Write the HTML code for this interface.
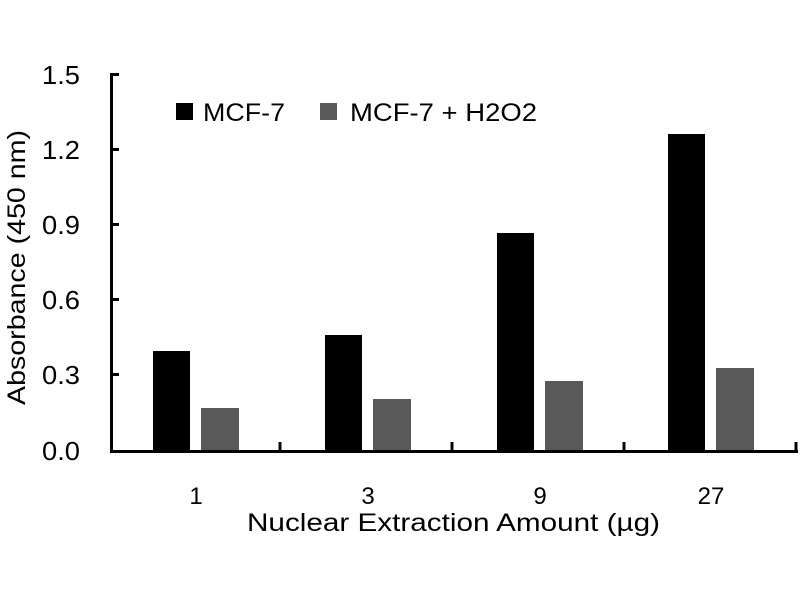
<!DOCTYPE html>
<html><head><style>body{margin:0;background:#fff}</style></head><body>
<svg width="800" height="600" xmlns="http://www.w3.org/2000/svg" font-family="Liberation Sans, DejaVu Sans, sans-serif">
<rect width="800" height="600" fill="#fff"/>
<g fill="#000">
<rect x="153" y="351" width="37" height="99"/>
<rect x="325" y="335" width="37" height="115"/>
<rect x="497" y="233" width="37" height="217"/>
<rect x="668" y="134" width="37" height="316"/>
</g>
<g fill="#595959">
<rect x="201" y="408" width="38" height="42"/>
<rect x="373" y="399" width="38" height="51"/>
<rect x="545" y="381" width="38" height="69"/>
<rect x="716" y="368" width="38" height="82"/>
</g>
<g stroke="#000" stroke-width="3" fill="none">
<path d="M111.5 73 V451.5 H798"/>
<path d="M111 74.5h8M111 149.5h8M111 224.5h8M111 299.5h8M111 374.5h8"/>
<path d="M280 450v-8M452 450v-8M624 450v-8M796 450v-8"/>
</g>
<g font-size="26" fill="#000">
<text x="42" y="84" textLength="38" lengthAdjust="spacingAndGlyphs">1.5</text>
<text x="42" y="159" textLength="38" lengthAdjust="spacingAndGlyphs">1.2</text>
<text x="42" y="234" textLength="38" lengthAdjust="spacingAndGlyphs">0.9</text>
<text x="42" y="309" textLength="38" lengthAdjust="spacingAndGlyphs">0.6</text>
<text x="42" y="384" textLength="38" lengthAdjust="spacingAndGlyphs">0.3</text>
<text x="42" y="460" textLength="38" lengthAdjust="spacingAndGlyphs">0.0</text>
</g>
<g font-size="24" text-anchor="middle" fill="#000">
<text x="196" y="504">1</text>
<text x="368" y="504">3</text>
<text x="540" y="504">9</text>
<text x="711" y="504">27</text>
</g>
<text x="247" y="531" font-size="25" textLength="413" lengthAdjust="spacingAndGlyphs">Nuclear Extraction Amount (µg)</text>
<text transform="translate(25,405) rotate(-90)" font-size="25" textLength="275" lengthAdjust="spacingAndGlyphs">Absorbance (450 nm)</text>
<rect x="176" y="103" width="17" height="17" fill="#000"/>
<text x="203" y="121" font-size="25" textLength="82" lengthAdjust="spacingAndGlyphs">MCF-7</text>
<rect x="320" y="103" width="17" height="17" fill="#595959"/>
<text x="350" y="121" font-size="25" textLength="187" lengthAdjust="spacingAndGlyphs">MCF-7 + H2O2</text>
</svg>
</body></html>
